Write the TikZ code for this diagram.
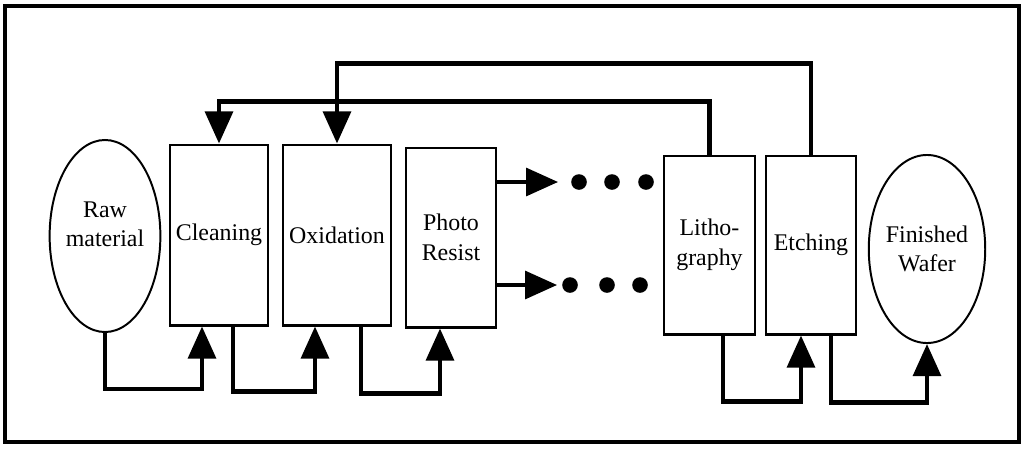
\documentclass[tikz,border=0pt]{standalone}
\usepackage{fontspec}
\setmainfont{Liberation Serif}
\usetikzlibrary{arrows.meta,positioning,shapes.geometric}

\begin{document}
\begin{tikzpicture}[
  x=0.025cm, y=-0.025cm,
  stage/.style={draw, line width=2.1pt, minimum height=4.5cm, inner sep=1pt,
                align=center, font=\fontsize{17}{21}\selectfont},
  stock/.style={draw, ellipse, line width=1.4pt, inner sep=0pt,
                align=center, font=\fontsize{17}{21}\selectfont},
  flow/.style={-{Triangle[length=8mm, width=6.9mm]}, line width=3pt},
  dot/.style={circle, fill, inner sep=0pt, minimum size=3.9mm},
]
\useasboundingbox (0,0) rectangle (1026,448);

% --- outer frame
\draw[line width=2.5pt] (5,6) rectangle (1019,442);

% --- the process line, left to right
\node[stock, minimum width=2.6cm, minimum height=4.8cm] (raw) at (105,236) {Raw\\material\\[-4pt]};
\node[stage, minimum width=2.45cm] (clean) at (219,235) {Cleaning};
\node[stage, minimum width=2.7cm] (oxid) at (337,235) {Oxidation};
\node[stage, minimum width=2.25cm, minimum height=4.475cm] (photo) at (451,237.5) {Photo\\Resist};
\node[stage, minimum width=2.275cm, minimum height=4.45cm] (litho) at (709.5,245) {Litho-\\graphy};
\node[stage, minimum width=2.25cm, minimum height=4.45cm] (etch) at (811,245) {Etching};
\node[stock, minimum width=2.55cm, minimum height=4.7cm] (wafer) at (927,249) {Finished\\Wafer};

% --- the steps left out between resist and lithography
\foreach \i/\x in {1/579,2/612,3/646}
  \node[dot] (up\i) at (\x,182) {};
\foreach \i/\x in {1/570,2/607,3/640}
  \node[dot] (lo\i) at (\x,285) {};

\draw[flow, shorten >=3.2mm] (photo.east |- up1) -- (up1.west);
\draw[flow, shorten >=1.2mm] (photo.east |- lo1) -- (lo1.west);

% --- forward flow, under the boxes
\draw[flow] (raw.south) -- ++(0,56) -| ([xshift=-4.25mm]clean.south);
\draw[flow] ([xshift=3.5mm]clean.south) -- ++(0,65) -| ([xshift=-5.5mm]oxid.south);
\draw[flow] ([xshift=6mm]oxid.south) -- ++(0,67) -| ([xshift=-2.75mm]photo.south);
\draw[flow] ([xshift=3.4mm]litho.south) -- ++(0,66) -| ([xshift=-2.5mm]etch.south);
\draw[flow] ([xshift=5mm]etch.south) -- ++(0,67) -| (wafer.south);

% --- loops back over the top
\draw[flow] (etch.north) -- ++(0,-91) -| (oxid.north);
\draw[flow] (litho.north) -- ++(0,-53) -| (clean.north);
\end{tikzpicture}
\end{document}
